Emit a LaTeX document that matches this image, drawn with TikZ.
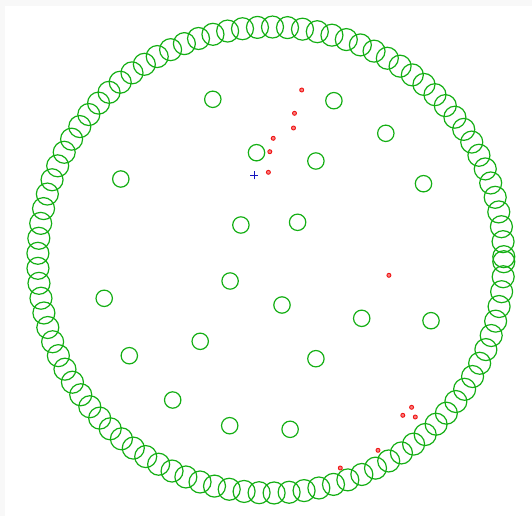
\documentclass[tikz,border=0pt]{standalone}
\definecolor{ringgreen}{RGB}{20,175,20}
\definecolor{dotred}{RGB}{240,20,20}
\definecolor{plusblue}{RGB}{20,20,190}
\definecolor{edgegray}{RGB}{248,248,248}
\begin{document}
\begin{tikzpicture}[x=1pt,y=-1pt,
  ringc/.style={draw=ringgreen,line width=1.2pt},
  innerc/.style={draw=ringgreen,line width=1.2pt},
  reddot/.style={draw=dotred,fill=dotred!55,line width=0.9pt},
  plusmark/.style={draw=plusblue,line width=1.2pt}]
\useasboundingbox (0,0) rectangle (532,516);
\fill[edgegray] (0,0) rectangle (532,516);
\fill[white] (5,6) rectangle (532,516);
% outer ring
\foreach \k in {0,...,97}{
  \draw[ringc] ([shift={(270.8,260)}]{0.42+3.6986*\k}:233) circle[radius=11pt];
}
% inner circles
\foreach \p in {(212.8,99.3),(333.9,100.7),(385.8,133.3),(256.5,152.7),(315.9,161),
  (120.8,179),(423.5,183.7),(240.9,225),(297.6,222.3),(230.1,281),(104.2,298.3),
  (282,305),(361.7,318.3),(431,320.7),(200.2,341.3),(129.3,355.7),(315.9,358.7),
  (172.7,400),(229.7,425.7),(290.1,429.3)}{
  \draw[innerc] \p circle[radius=8.2pt];
}
% red dots
\foreach \p in {(301.7,90),(294.5,113.3),(293.5,128),(273.2,138.3),(269.8,151.7),
  (268.4,172.3),(388.9,275.3),(411.6,407.3),(402.8,415.3),(415.3,417),(378,450.3),(340.3,468)}{
  \draw[reddot] \p circle[radius=2pt];
}
% blue plus
\coordinate (plus) at (254.3,175.3);
\draw[plusmark] ([xshift=-4pt]plus) -- ([xshift=4pt]plus);
\draw[plusmark] ([yshift=-4pt]plus) -- ([yshift=4pt]plus);
\end{tikzpicture}
\end{document}
